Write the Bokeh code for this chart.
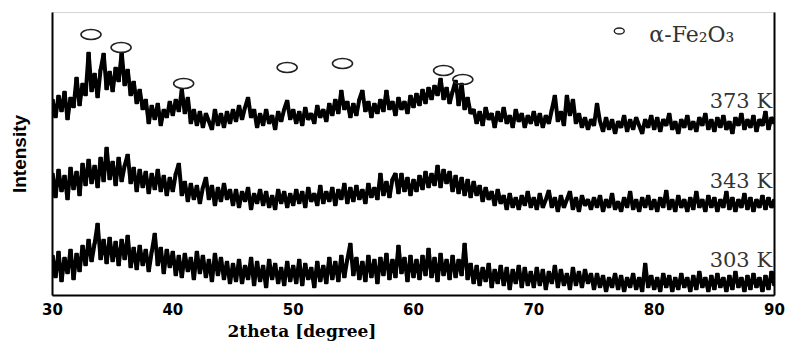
from bokeh.plotting import figure
from bokeh.models import Range1d, LinearAxis, FixedTicker, Label, Title
from bokeh.embed import file_html
from bokeh.resources import INLINE

# ---------------- data ----------------
two_theta = [round(30 + 0.25 * i, 2) for i in range(241)]

intensity_373K = [
    196, 178, 200, 184, 204, 176, 198, 188, 218, 190, 212, 200, 243, 204, 222, 198, 226, 242, 206, 224,
    204, 228, 214, 243, 210, 226, 200, 214, 192, 206, 186, 196, 172, 190, 176, 192, 170, 186, 178, 194,
    180, 196, 184, 206, 182, 198, 172, 186, 170, 184, 168, 182, 174, 166, 186, 170, 182, 168, 184, 172,
    186, 174, 190, 176, 188, 198, 178, 186, 168, 182, 170, 186, 172, 180, 166, 184, 174, 186, 195, 176,
    186, 172, 184, 170, 188, 176, 182, 172, 190, 178, 186, 174, 192, 180, 196, 182, 205, 186, 194, 178,
    192, 180, 196, 205, 184, 194, 178, 192, 182, 196, 184, 205, 186, 194, 180, 198, 186, 194, 182, 200,
    188, 202, 190, 206, 192, 208, 196, 210, 200, 217, 196, 208, 192, 204, 215, 190, 212, 186, 198, 182,
    186, 172, 184, 170, 188, 176, 182, 168, 184, 174, 188, 172, 180, 168, 186, 174, 182, 168, 180, 172,
    184, 170, 182, 168, 180, 172, 186, 200, 174, 184, 170, 200, 180, 196, 172, 182, 168, 178, 166, 176,
    170, 192, 174, 164, 178, 166, 176, 162, 174, 168, 180, 164, 176, 166, 178, 170, 162, 176, 168, 180,
    166, 178, 164, 176, 170, 182, 166, 174, 162, 176, 168, 180, 166, 174, 164, 178, 170, 182, 166, 176,
    164, 178, 168, 180, 166, 174, 162, 178, 170, 182, 166, 176, 168, 180, 164, 176, 170, 184, 166, 178, 172,
]

intensity_343K = [
    122, 98, 126, 104, 120, 96, 128, 106, 124, 100, 132, 110, 136, 112, 130, 108, 138, 114, 148, 116,
    134, 110, 138, 114, 130, 141, 112, 128, 104, 126, 108, 124, 102, 122, 106, 126, 104, 120, 100, 118,
    104, 122, 132, 100, 114, 94, 112, 96, 110, 92, 108, 118, 96, 110, 90, 108, 94, 112, 96, 106,
    90, 106, 88, 104, 94, 108, 86, 102, 92, 106, 90, 104, 88, 100, 86, 106, 92, 104, 88, 102,
    90, 106, 92, 104, 88, 108, 94, 102, 90, 110, 92, 104, 94, 108, 90, 106, 96, 112, 92, 108,
    94, 110, 96, 106, 92, 112, 98, 108, 96, 122, 100, 114, 98, 116, 122, 102, 122, 104, 118, 100,
    116, 104, 120, 106, 124, 108, 122, 110, 130, 108, 126, 112, 124, 104, 120, 102, 118, 100, 116, 98,
    114, 100, 110, 94, 108, 96, 104, 90, 106, 92, 100, 86, 102, 88, 98, 86, 100, 90, 104, 88,
    98, 86, 102, 88, 96, 105, 88, 98, 84, 100, 88, 96, 104, 86, 98, 84, 100, 90, 96, 86,
    98, 88, 100, 84, 96, 88, 102, 86, 94, 84, 98, 88, 104, 86, 96, 84, 98, 88, 100, 86,
    96, 84, 98, 88, 105, 86, 96, 84, 100, 88, 96, 84, 98, 86, 104, 88, 96, 84, 100, 88,
    98, 84, 96, 88, 104, 86, 98, 84, 96, 88, 102, 86, 98, 84, 96, 88, 100, 86, 98, 88, 96,
]

intensity_303K = [
    40, 18, 44, 14, 38, 22, 46, 16, 42, 24, 50, 30, 56, 34, 52, 72, 36, 56, 32, 58,
    34, 54, 30, 56, 36, 60, 28, 48, 26, 50, 30, 46, 24, 44, 62, 30, 48, 22, 46, 28,
    44, 20, 40, 18, 42, 24, 38, 16, 44, 22, 40, 18, 36, 14, 42, 20, 38, 16, 34, 12,
    32, 14, 36, 12, 30, 16, 38, 10, 34, 14, 30, 8, 36, 16, 32, 12, 28, 10, 34, 14,
    30, 12, 36, 10, 32, 16, 28, 8, 34, 14, 30, 12, 38, 16, 34, 14, 40, 18, 36, 52,
    20, 38, 16, 34, 14, 40, 18, 36, 12, 38, 20, 42, 16, 36, 18, 50, 22, 38, 14, 40,
    18, 36, 16, 40, 20, 47, 18, 38, 14, 42, 20, 36, 16, 40, 18, 36, 20, 52, 16, 32,
    12, 30, 10, 28, 14, 32, 8, 26, 12, 30, 10, 28, 6, 26, 12, 30, 8, 28, 10, 24,
    8, 28, 10, 26, 6, 24, 12, 30, 8, 26, 10, 22, 6, 28, 10, 24, 8, 26, 12, 22,
    6, 22, 8, 20, 4, 18, 8, 22, 6, 20, 4, 18, 8, 22, 6, 18, 4, 32, 8, 20,
    6, 18, 4, 22, 8, 20, 4, 18, 6, 22, 8, 18, 4, 20, 6, 24, 8, 18, 4, 20,
    6, 22, 8, 18, 4, 20, 6, 24, 8, 18, 4, 20, 6, 22, 8, 18, 4, 20, 6, 24, 10,
]

# alpha-Fe2O3 peak markers (position, height above the 373 K trace)
peak_2theta = [33.2, 35.7, 40.9, 49.5, 54.1, 62.5, 64.1]
peak_intensity = [261, 248, 212, 228, 232, 225, 216]

x_ticks = [30, 40, 50, 60, 70, 80, 90]
series_labels = ["373 K", "343 K", "303 K"]
legend_text = "α-Fe₂O₃"
x_title = "2theta [degree]"
y_title = "Intensity"

# ---------------- figure ----------------
p = figure(frame_width=722, frame_height=283,
           x_range=Range1d(30, 90), y_range=Range1d(0, 283),
           output_backend="svg", toolbar_location=None,
           min_border_left=52, min_border_right=15,
           min_border_top=12, min_border_bottom=40)
p.grid.visible = False
p.outline_line_color = "#d4d4d4"
p.outline_line_width = 1
p.background_fill_color = "white"
p.border_fill_color = "white"

# bottom axis
xa = p.xaxis[0]
xa.ticker = FixedTicker(ticks=x_ticks)
xa.axis_line_width = 2
xa.axis_line_color = "black"
xa.major_tick_line_color = None
xa.minor_tick_line_color = None
xa.major_tick_out = 0
xa.major_label_standoff = 7
xa.major_label_text_font = "DejaVu Sans"
xa.major_label_text_font_style = "bold"
xa.major_label_text_font_size = "15px"
xa.major_label_text_color = "black"

# x title, shifted left like the original
p.add_layout(Title(text=x_title, align="left", offset=175, standoff=2,
                   text_font="DejaVu Serif", text_font_style="bold",
                   text_font_size="17px", text_color="black"), "below")

# left axis (no ticks) with the rotated title
ya = p.yaxis[0]
ya.ticker = FixedTicker(ticks=[])
ya.axis_line_width = 2
ya.axis_line_color = "black"
ya.major_tick_line_color = None
ya.minor_tick_line_color = None
ya.major_tick_out = 0
ya.major_label_text_font_size = "0px"
ya.axis_label = y_title
ya.axis_label_standoff = 23
ya.axis_label_text_font = "Liberation Sans Narrow, Liberation Sans"
ya.axis_label_text_font_style = "bold"
ya.axis_label_text_font_size = "19px"
ya.axis_label_text_color = "black"

# right axis line
ra = LinearAxis(ticker=FixedTicker(ticks=[]), axis_line_width=2, axis_line_color="black",
                major_tick_line_color=None, minor_tick_line_color=None,
                major_label_text_font_size="0px")
p.add_layout(ra, "right")

# traces: dense noisy counts -> thick zig-zag plus thin steps for the spiky edges
for ys in (intensity_373K, intensity_343K, intensity_303K):
    p.line(two_theta, ys, line_color="black", line_width=4.0, line_join="bevel")
    p.step(two_theta, ys, mode="center", line_color="black", line_width=1.3)

# peak markers
p.ellipse(x=peak_2theta, y=peak_intensity, width=20, height=10,
          width_units="screen", height_units="screen",
          fill_color=None, line_color="#222222", line_width=1.6)

# legend symbol + text
p.ellipse(x=[77.1], y=[264.5], width=10, height=6,
          width_units="screen", height_units="screen",
          fill_color=None, line_color="#222222", line_width=1.4)
p.add_layout(Label(x=79.6, y=261, text=legend_text, text_font="DejaVu Serif",
                   text_font_size="22px", text_color="#333333",
                   text_align="left", text_baseline="alphabetic"))

# series labels
for lab, yy in zip(series_labels, [195, 115, 36]):
    p.add_layout(Label(x=89.8, y=yy, text=lab, text_font="DejaVu Serif",
                       text_font_size="21px", text_color="#333333",
                       text_align="right", text_baseline="alphabetic"))

open("out.html", "w").write(file_html(p, INLINE))
